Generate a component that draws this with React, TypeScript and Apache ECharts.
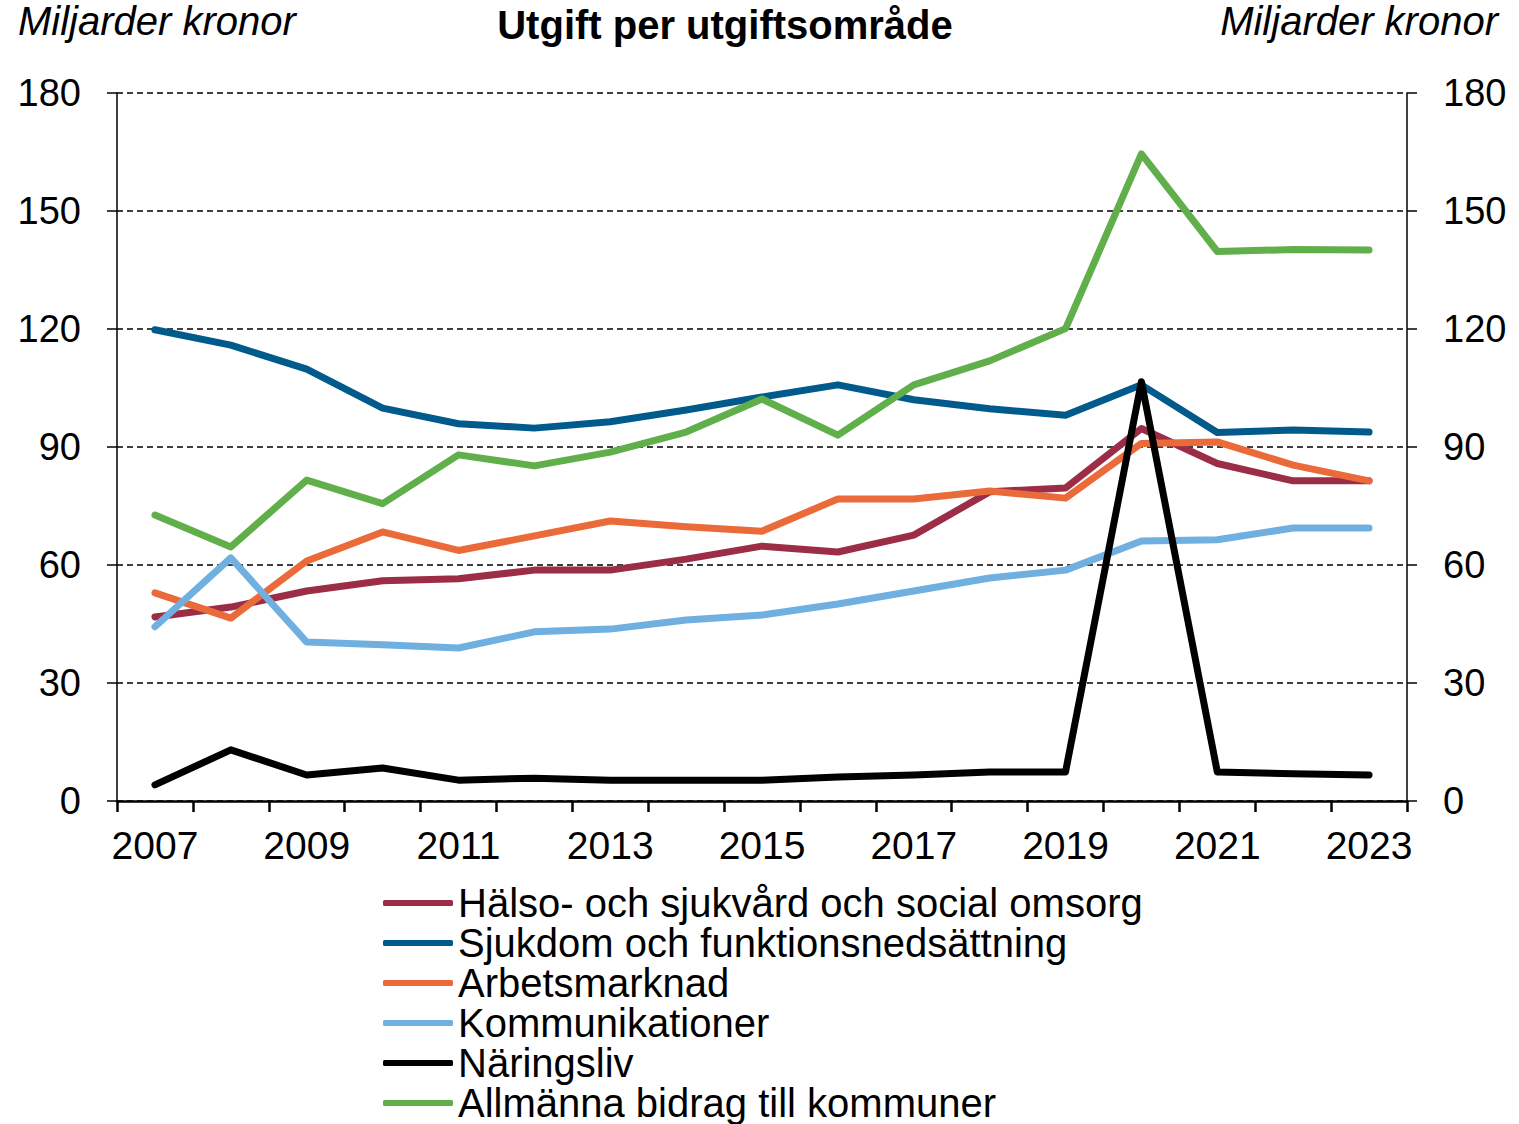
import React, { useEffect, useRef } from "react";
import * as echarts from "echarts";

const years = ["2007","2008","2009","2010","2011","2012","2013","2014","2015","2016","2017","2018","2019","2020","2021","2022","2023"];

const halso = [46.8, 49.3, 53.4, 56.0, 56.5, 58.7, 58.7, 61.5, 64.8, 63.3, 67.6, 78.6, 79.6, 94.7, 85.8, 81.4, 81.4];
const sjukdom = [119.8, 115.9, 109.8, 99.9, 95.9, 94.8, 96.4, 99.4, 102.7, 105.8, 102.0, 99.7, 98.1, 105.8, 93.7, 94.3, 93.8];
const arbetsmarknad = [52.9, 46.5, 61.0, 68.4, 63.7, 67.4, 71.2, 69.7, 68.6, 76.8, 76.8, 78.8, 77.0, 90.9, 91.3, 85.4, 81.4];
const kommunikationer = [44.3, 61.8, 40.4, 39.7, 38.9, 43.0, 43.7, 46.0, 47.3, 50.1, 53.4, 56.7, 58.7, 66.1, 66.4, 69.4, 69.4];
const naringsliv = [4.1, 13.0, 6.6, 8.4, 5.3, 5.8, 5.3, 5.3, 5.3, 6.1, 6.6, 7.4, 7.4, 106.6, 7.4, 6.9, 6.6];
const allmanna = [72.7, 64.6, 81.6, 75.6, 88.0, 85.2, 88.7, 93.8, 102.2, 93.0, 105.8, 111.9, 120.1, 164.5, 139.7, 140.2, 140.1];

const seriesNames = [
  "Hälso- och sjukvård och social omsorg",
  "Sjukdom och funktionsnedsättning",
  "Arbetsmarknad",
  "Kommunikationer",
  "Näringsliv",
  "Allmänna bidrag till kommuner",
];
const seriesData = [halso, sjukdom, arbetsmarknad, kommunikationer, naringsliv, allmanna];
const seriesColors = ["#9B2D46", "#005B8C", "#EB6A3A", "#6FB0E0", "#000000", "#60AF4A"];

const FONT = "'Liberation Sans', Arial, sans-serif";

export default function App() {
  const ref = useRef<HTMLDivElement>(null);
  useEffect(() => {
    if (!ref.current) return;
    const chart = echarts.init(ref.current, null, { renderer: "svg" });
    const yAxisCommon = {
      type: "value",
      min: 0,
      max: 180,
      interval: 30,
      axisLine: { show: true, lineStyle: { color: "#000", width: 1.5 } },
      axisTick: { show: true, length: 10, lineStyle: { color: "#000", width: 1.5 } },
      axisLabel: { color: "#000", fontSize: 38, fontFamily: FONT, margin: 36 },
    };
    chart.setOption({
      animation: false,
      backgroundColor: "#fff",
      textStyle: { fontFamily: FONT },
      title: {
        text: "Utgift per utgiftsområde",
        left: 720,
        textAlign: "center",
        top: 0,
        textStyle: { fontSize: 40, fontWeight: "bold", color: "#000", fontFamily: FONT },
      },
      graphic: [
        {
          type: "text",
          left: 18,
          top: 1,
          style: { text: "Miljarder kronor", fontSize: 40, fontStyle: "italic", fill: "#000", fontFamily: FONT },
        },
        {
          type: "text",
          right: 21,
          top: 1,
          style: { text: "Miljarder kronor", fontSize: 40, fontStyle: "italic", fill: "#000", fontFamily: FONT },
        },
      ],
      grid: { left: 117, right: 112, top: 93, bottom: 323, containLabel: false },
      legend: {
        orient: "vertical",
        left: 383,
        top: 883,
        itemWidth: 70,
        itemHeight: 6,
        itemGap: 0,
        icon: "roundRect",
        padding: 0,
        textStyle: { fontSize: 40, color: "#000", fontFamily: FONT, lineHeight: 40 },
        data: seriesNames,
      },
      xAxis: {
        type: "category",
        data: years,
        boundaryGap: true,
        axisLine: { lineStyle: { color: "#000", width: 2.5 } },
        axisTick: { show: true, interval: 0, length: 11, lineStyle: { color: "#000", width: 2.5 } },
        axisLabel: { interval: 1, color: "#000", fontSize: 39, fontFamily: FONT, margin: 25 },
      },
      yAxis: [
        {
          ...yAxisCommon,
          position: "left",
          splitLine: { show: true, lineStyle: { color: "#000", type: [6, 4], width: 1.5 } },
        },
        {
          ...yAxisCommon,
          position: "right",
          splitLine: { show: false },
        },
      ],
      series: seriesNames.map((name, i) => ({
        name,
        type: "line",
        data: seriesData[i],
        yAxisIndex: 0,
        symbol: "none",
        lineStyle: { color: seriesColors[i], width: 7, cap: "round", join: "round" },
        itemStyle: { color: seriesColors[i] },
        z: 2 + i,
      })),
    });
    return () => chart.dispose();
  }, []);
  return <div ref={ref} style={{ width: 1519, height: 1124, position: "absolute", left: 0, top: 0 }} />;
}
